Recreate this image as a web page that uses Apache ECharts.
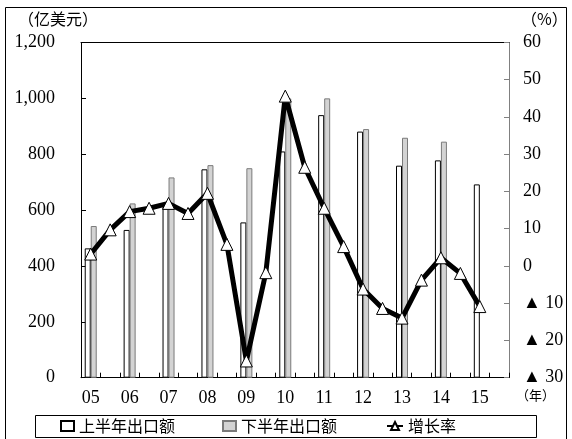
<!DOCTYPE html>
<html><head><meta charset="utf-8">
<script src="https://cdn.jsdelivr.net/npm/echarts@6/dist/echarts.min.js"></script>
<style>html,body{margin:0;padding:0;background:#fff}#c{width:572px;height:439px}</style>
</head><body><div id="c"></div>
<script>
const years = ['05','06','07','08','09','10','11','12','13','14','15'];
const firstHalf = [463, 529, 615, 746, 556, 810, 940, 881, 759, 778, 692];
const secondHalf = [543, 624, 717, 761, 750, 1000, 1000, 890, 859, 845, null];
const growthRate = [3.2, 9.7, 14.6, 15.5, 16.8, 14.1, 19.5, 5.8, -25.5, -1.8, 45.6, 26.5,
  15.5, 5.2, -6.2, -11.4, -14.0, -3.8, 2.2, -2.0, -10.9, null];
const leftTicks = [0, 200, 400, 600, 800, 1000, 1200];
const rightTicks = [-30, -20, -10, 0, 10, 20, 30, 40, 50, 60];

const halfCats = [];
const h1Data = [], h2Data = [];
years.forEach((y, i) => {
  halfCats.push(y); halfCats.push(y + '下');
  h1Data.push(firstHalf[i], null);
  h2Data.push(secondHalf[i], null);
});

const FONT = "'Liberation Serif','Noto Sans CJK SC',serif";
const CJK = "'Noto Sans CJK SC',sans-serif";

const chart = echarts.init(document.getElementById('c'));
chart.setOption({
  animation: false,
  backgroundColor: '#fff',
  grid: { left: 81, right: 63, top: 42.5, bottom: 61.3, containLabel: false },
  graphic: [
    { type: 'rect', shape: { x: 5.5, y: 7.5, width: 561, height: 445 }, style: { fill: 'none', stroke: '#000', lineWidth: 1 }, silent: true },
    { type: 'rect', shape: { x: 35.5, y: 415.5, width: 501, height: 22 }, style: { fill: '#fff', stroke: '#000', lineWidth: 1 }, silent: true },
    { type: 'text', left: 18, top: 11, style: { text: '（亿美元）', font: "16px 'Noto Sans CJK SC'", fill: '#000' } },
    { type: 'text', left: 521, top: 11, style: { text: '（%）', font: "16px 'Noto Sans CJK SC'", fill: '#000' } },
    { type: 'text', left: 516, top: 389, style: { text: '（年）', font: "13px 'Noto Sans CJK SC'", fill: '#000' } }
  ],
  legend: [
    { data: [{ name: '上半年出口额', icon: 'rect' }], left: 60, top: 418, itemWidth: 13, itemHeight: 10, textStyle: { fontFamily: CJK, fontSize: 16, color: '#000' }, padding: 0 },
    { data: [{ name: '下半年出口额', icon: 'rect' }], left: 222, top: 418, itemWidth: 13, itemHeight: 10, textStyle: { fontFamily: CJK, fontSize: 16, color: '#000' }, padding: 0 },
    { data: ['增长率'], left: 386, top: 418, itemWidth: 16, itemHeight: 10, textStyle: { fontFamily: CJK, fontSize: 16, color: '#000' }, padding: 0 }
  ],
  xAxis: [
    {
      type: 'category', data: halfCats, boundaryGap: true,
      axisLine: { onZero: false, lineStyle: { color: '#000', width: 1 } },
      axisTick: { show: true, inside: true, length: 5, interval: 0, lineStyle: { color: '#000' } },
      axisLabel: { interval: 1, margin: 12, fontFamily: FONT, fontSize: 18, color: '#000', formatter: v => v.replace('下', '') }
    },
    {
      type: 'category', data: halfCats, position: 'top',
      axisLine: { show: true, onZero: false, lineStyle: { color: '#000', width: 1 } },
      axisTick: { show: false }, axisLabel: { show: false }
    }
  ],
  yAxis: [
    {
      type: 'value', min: 0, max: 1200, interval: 200,
      axisLine: { show: true, onZero: false, lineStyle: { color: '#000' } },
      axisTick: { show: true, inside: true, length: 5, lineStyle: { color: '#000' } },
      splitLine: { show: false },
      axisLabel: {
        margin: 26, fontFamily: FONT, fontSize: 18, color: '#000',
        formatter: v => leftTicks.includes(v) ? (v >= 1000 ? Math.floor(v / 1000) + ',' + String(v % 1000).padStart(3, '0') : String(v)) : ''
      }
    },
    {
      type: 'value', min: -30, max: 60, interval: 10, position: 'right',
      axisLine: { show: true, onZero: false, lineStyle: { color: '#808080' } },
      axisTick: { show: true, inside: true, length: 5, lineStyle: { color: '#808080' } },
      splitLine: { show: false },
      axisLabel: {
        margin: 14, fontFamily: FONT, fontSize: 18, color: '#000', align: 'left',
        formatter: v => rightTicks.includes(v) ? (v < 0 ? '▲ ' + (-v) : String(v)) : ''
      }
    }
  ],
  series: [
    {
      name: '上半年出口额', type: 'bar', data: h1Data, barWidth: 6, barGap: '0%',
      itemStyle: { color: '#fff', borderColor: '#000', borderWidth: 1 }, z: 2
    },
    {
      name: '下半年出口额', type: 'bar', data: h2Data, barWidth: 6, barGap: '0%',
      itemStyle: { color: '#d3d3d3', borderColor: '#7a7a7a', borderWidth: 1 }, z: 2
    },
    {
      name: '增长率', type: 'line', yAxisIndex: 1, data: growthRate,
      symbol: 'triangle', symbolSize: 12, showSymbol: true,
      lineStyle: { color: '#000', width: 5 },
      itemStyle: { color: '#fff', borderColor: '#000', borderWidth: 1 }, z: 5
    }
  ]
});
</script></body></html>
